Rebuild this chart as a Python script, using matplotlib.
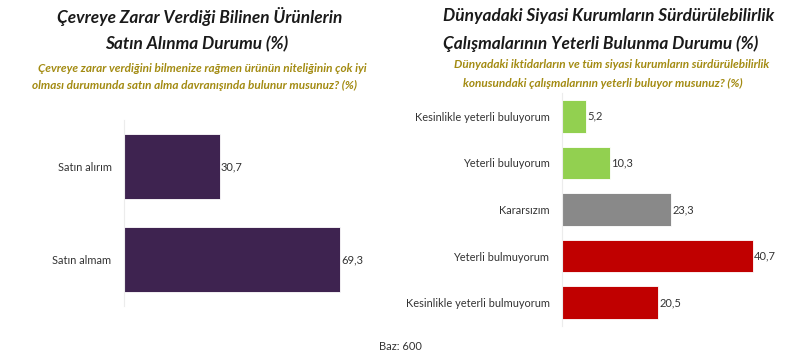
import matplotlib
matplotlib.use("Agg")
import matplotlib.pyplot as plt

plt.rcParams['font.family'] = ['Lato', 'DejaVu Sans']

# left chart data
left_cats = ["Satın alırım", "Satın almam"]
left_vals = [30.7, 69.3]

# right chart data
right_cats = ["Kesinlikle yeterli buluyorum", "Yeterli buluyorum", "Kararsızım",
              "Yeterli bulmuyorum", "Kesinlikle yeterli bulmuyorum"]
right_vals = [5.2, 10.3, 23.3, 40.7, 20.5]
right_colors = ["#92D050", "#92D050", "#898989", "#C00000", "#C00000"]

W, H = 800, 355
TITLE_C = "#A38B12"

fig = plt.figure(figsize=(W / 100, H / 100), dpi=100)


def px_axes(x0, y0, x1, y1):
    return fig.add_axes([x0 / W, 1 - y1 / H, (x1 - x0) / W, (y1 - y0) / H])


def style(ax, cats, vals, colors, xmax, bh):
    ax.barh(range(len(cats)), vals, height=bh, color=colors, edgecolor="white", linewidth=0.6)
    ax.set_ylim(len(cats) - 0.5, -0.5)
    ax.set_xlim(0, xmax)
    ax.set_yticks(range(len(cats)))
    ax.set_yticklabels(cats, fontsize=7.9, color="#333333")
    ax.tick_params(axis="y", length=0, pad=9)
    ax.set_xticks([])
    for s in ["top", "right", "bottom"]:
        ax.spines[s].set_visible(False)
    ax.spines["left"].set_color("#ececec")
    ax.spines["left"].set_linewidth(0.8)
    for i, v in enumerate(vals):
        ax.text(v + xmax * 0.004, i, f"{v:.1f}".replace(".", ","), va="center", ha="left",
                fontsize=8, color="#333333")


axl = px_axes(124, 120, 124 + 80 * 3.117, 306)
style(axl, left_cats, left_vals, ["#3E2350"] * 2, 80, 0.69)

axr = px_axes(562, 93, 562 + 50 * 4.69, 326)
style(axr, right_cats, right_vals, right_colors, 50, 0.70)

# titles
tkw = dict(ha="center", va="center", fontsize=12.4, fontweight="bold", fontstyle="italic", color="#1a1a1a")
skw = dict(ha="center", va="center", fontsize=8.45, fontweight="bold", fontstyle="italic", color=TITLE_C)

fig.text(200 / W, 1 - 16 / H, "Çevreye Zarar Verdiği Bilinen Ürünlerin", **tkw)
fig.text(197 / W, 1 - 44 / H, "Satın Alınma Durumu (%)", **tkw)
fig.text(202 / W, 1 - 68 / H, "Çevreye zarar verdiğini bilmenize rağmen ürünün niteliğinin çok iyi", **skw)
fig.text(195 / W, 1 - 85 / H, "olması durumunda satın alma davranışında bulunur musunuz? (%)", **skw)

fig.text(609 / W, 1 - 16 / H, "Dünyadaki Siyasi Kurumların Sürdürülebilirlik", **tkw)
fig.text(601 / W, 1 - 44 / H, "Çalışmalarının Yeterli Bulunma Durumu (%)", **tkw)
fig.text(612 / W, 1 - 64 / H, "Dünyadaki iktidarların ve tüm siyasi kurumların sürdürülebilirlik", **skw)
fig.text(603 / W, 1 - 83 / H, "konusundaki çalışmalarının yeterli buluyor musunuz? (%)", **skw)

fig.text(400 / W, 1 - 347 / H, "Baz: 600", ha="center", va="center", fontsize=8, color="#333333")

fig.savefig("out.png", dpi=100, facecolor="white")
